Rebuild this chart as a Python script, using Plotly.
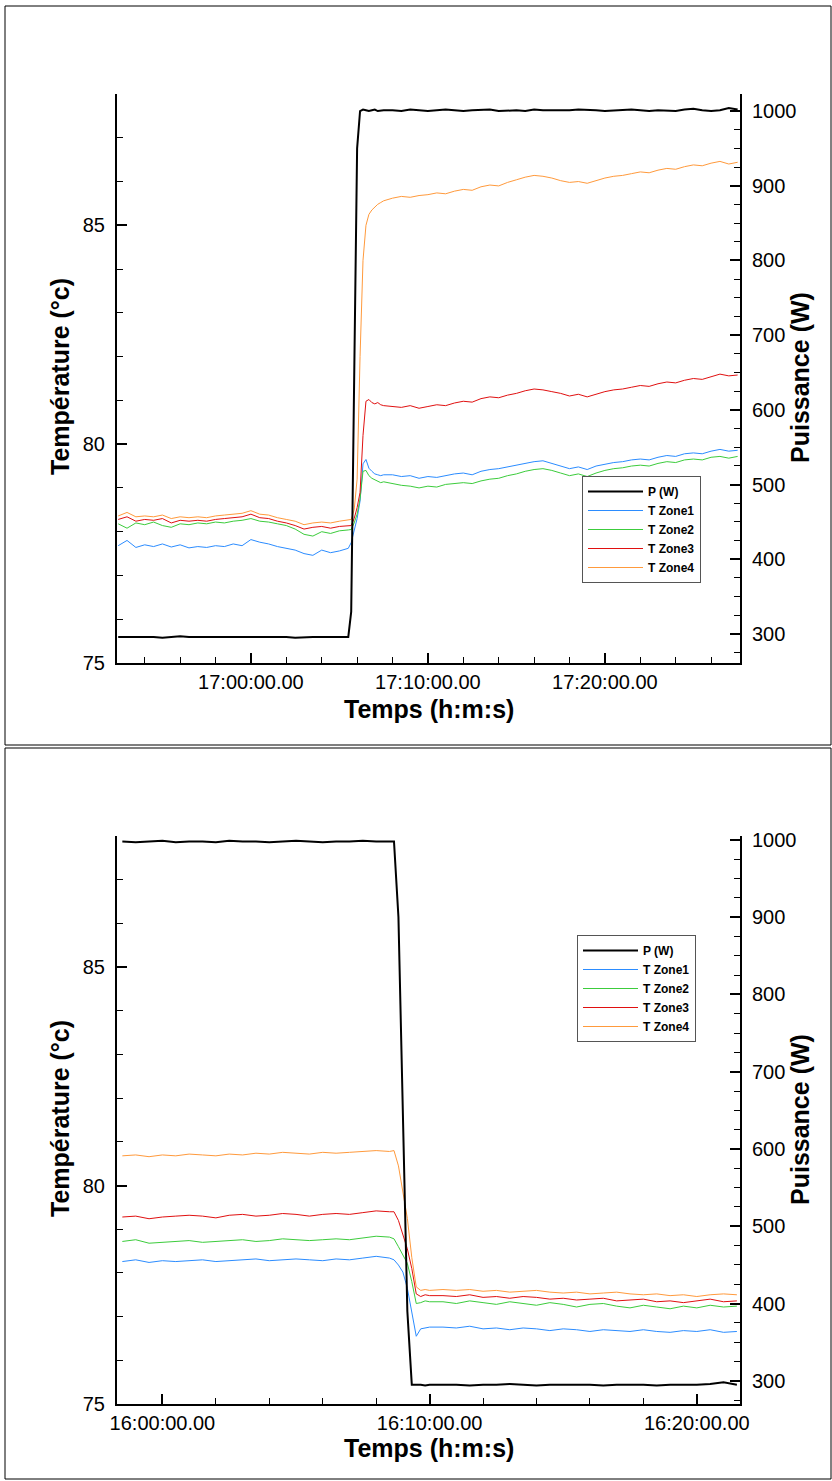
import pandas as pd
import plotly.graph_objects as go

DAY = "2024-01-01 "
FONT = "Liberation Sans, Arial, sans-serif"

# ---------------- essai 1 : echelon de puissance montant ----------------
t_top = (
    list(pd.date_range(DAY + "16:52:30", DAY + "17:05:30", freq="30s"))
    + list(pd.date_range(DAY + "17:05:40", DAY + "17:07:30", freq="10s"))
    + list(pd.date_range(DAY + "17:08:00", DAY + "17:27:30", freq="30s"))
)

p_top = [
    296, 296, 297, 296, 296, 295, 296, 297, 296, 296, 296, 297, 296, 296,
    296, 296, 297, 296, 296, 296, 295, 296, 296, 296, 296, 297, 296,
    330, 640, 950, 1000, 1002, 1001, 1000, 1001, 1002, 1000, 1001, 1001,
    1001, 1000, 1002, 1001, 1000, 1001, 1002, 1001, 1000, 1001,
    1001, 1002, 1000, 1001, 1001, 1000, 1002, 1001, 1001, 1000,
    1001, 1002, 1001, 1001, 1000, 1001, 1001, 1002, 1001, 1000,
    1001, 1001, 1000, 1002, 1003, 1001, 1000, 1001, 1004, 1002,
]
z1_top = [
    77.68, 77.80, 77.64, 77.70, 77.66, 77.72, 77.65, 77.70, 77.63, 77.66,
    77.64, 77.68, 77.66, 77.72, 77.68, 77.82, 77.76, 77.72, 77.66, 77.62,
    77.58, 77.50, 77.46, 77.58, 77.52, 77.56, 77.62,
    77.75, 78.00, 78.30, 78.70, 79.55, 79.65, 79.45, 79.38, 79.32, 79.30, 79.28, 79.30,
    79.30, 79.26, 79.28, 79.22, 79.26, 79.24, 79.28, 79.32, 79.34, 79.30,
    79.38, 79.42, 79.44, 79.48, 79.52, 79.56, 79.60, 79.62, 79.56, 79.50,
    79.44, 79.48, 79.42, 79.50, 79.54, 79.58, 79.60, 79.64, 79.66, 79.64,
    79.70, 79.74, 79.72, 79.78, 79.80, 79.78, 79.84, 79.88, 79.84, 79.86,
]
z2_top = [
    78.18, 78.08, 78.20, 78.16, 78.22, 78.14, 78.10, 78.18, 78.16, 78.20,
    78.18, 78.22, 78.20, 78.24, 78.26, 78.30, 78.24, 78.22, 78.18, 78.14,
    78.06, 77.94, 77.90, 78.00, 77.96, 78.02, 78.04,
    78.05, 78.20, 78.40, 78.75, 79.38, 79.40, 79.28, 79.22, 79.18, 79.15, 79.12, 79.14,
    79.10, 79.06, 79.04, 79.00, 79.04, 79.02, 79.08, 79.10, 79.12, 79.10,
    79.16, 79.20, 79.22, 79.28, 79.32, 79.38, 79.42, 79.44, 79.40, 79.34,
    79.28, 79.32, 79.26, 79.34, 79.40, 79.44, 79.46, 79.50, 79.52, 79.50,
    79.56, 79.60, 79.58, 79.64, 79.66, 79.64, 79.70, 79.72, 79.68, 79.72,
]
z3_top = [
    78.28, 78.34, 78.24, 78.28, 78.26, 78.30, 78.20, 78.26, 78.24, 78.26,
    78.24, 78.28, 78.30, 78.32, 78.34, 78.40, 78.32, 78.30, 78.24, 78.20,
    78.14, 78.06, 78.10, 78.12, 78.08, 78.12, 78.14,
    78.14, 78.30, 78.55, 78.90, 80.20, 80.98, 81.02, 80.95, 80.92, 80.95, 80.90, 80.88,
    80.86, 80.84, 80.88, 80.82, 80.86, 80.90, 80.88, 80.94, 80.98, 80.96,
    81.04, 81.08, 81.06, 81.12, 81.16, 81.22, 81.26, 81.24, 81.20, 81.16,
    81.10, 81.14, 81.08, 81.14, 81.20, 81.24, 81.26, 81.30, 81.34, 81.32,
    81.38, 81.42, 81.40, 81.46, 81.50, 81.48, 81.54, 81.60, 81.56, 81.58,
]
z4_top = [
    78.36, 78.44, 78.34, 78.36, 78.34, 78.38, 78.30, 78.34, 78.32, 78.34,
    78.32, 78.36, 78.38, 78.40, 78.42, 78.48, 78.40, 78.38, 78.32, 78.28,
    78.24, 78.16, 78.20, 78.22, 78.20, 78.24, 78.26,
    78.28, 78.50, 79.20, 82.00, 84.20, 85.00, 85.25, 85.35, 85.42, 85.48, 85.52, 85.56,
    85.62, 85.66, 85.64, 85.68, 85.70, 85.74, 85.72, 85.78, 85.82, 85.80,
    85.88, 85.92, 85.90, 85.98, 86.04, 86.10, 86.14, 86.12, 86.08, 86.02,
    85.98, 86.00, 85.96, 86.02, 86.08, 86.12, 86.14, 86.18, 86.22, 86.20,
    86.26, 86.30, 86.28, 86.34, 86.38, 86.36, 86.42, 86.46, 86.40, 86.44,
]

# ---------------- essai 2 : echelon de puissance descendant ----------------
t_bot = (
    list(pd.date_range(DAY + "15:58:30", DAY + "16:08:30", freq="30s"))
    + list(pd.date_range(DAY + "16:08:40", DAY + "16:10:00", freq="10s"))
    + list(pd.date_range(DAY + "16:10:30", DAY + "16:21:30", freq="30s"))
)

p_bot = [
    998, 997, 998, 999, 997, 998, 998, 997, 999, 998, 998,
    997, 998, 999, 998, 997, 998, 998, 999, 998, 998,
    998, 900, 640, 390, 295, 295, 295, 294, 295,
    295, 295, 294, 295, 295, 296, 295, 294, 295, 295, 295, 295,
    294, 295, 295, 295, 294, 295, 295, 295, 296, 298, 295,
]
z1_bot = [
    78.26, 78.30, 78.24, 78.28, 78.26, 78.28, 78.30, 78.26, 78.28, 78.30, 78.32,
    78.28, 78.30, 78.32, 78.30, 78.28, 78.32, 78.30, 78.34, 78.38, 78.34,
    78.30, 78.18, 78.02, 77.65, 77.10, 76.55, 76.72, 76.74, 76.76,
    76.76, 76.74, 76.78, 76.72, 76.74, 76.70, 76.74, 76.72, 76.68, 76.72, 76.70, 76.66,
    76.70, 76.68, 76.66, 76.70, 76.66, 76.64, 76.68, 76.66, 76.70, 76.64, 76.66,
]
z2_bot = [
    78.72, 78.76, 78.68, 78.70, 78.72, 78.74, 78.70, 78.72, 78.74, 78.76, 78.72,
    78.74, 78.78, 78.76, 78.74, 78.76, 78.78, 78.76, 78.80, 78.84, 78.82,
    78.78, 78.60, 78.42, 78.22, 77.80, 77.30, 77.32, 77.36, 77.34,
    77.34, 77.30, 77.36, 77.32, 77.28, 77.34, 77.30, 77.26, 77.32, 77.28, 77.22, 77.28,
    77.30, 77.24, 77.20, 77.26, 77.22, 77.18, 77.24, 77.20, 77.26, 77.22, 77.24,
]
z3_bot = [
    79.28, 79.30, 79.24, 79.28, 79.30, 79.32, 79.30, 79.26, 79.32, 79.34, 79.30,
    79.32, 79.36, 79.34, 79.30, 79.34, 79.36, 79.34, 79.38, 79.42, 79.40,
    79.40, 79.20, 78.85, 78.55, 78.10, 77.52, 77.46, 77.50, 77.48,
    77.48, 77.46, 77.50, 77.44, 77.46, 77.42, 77.46, 77.44, 77.40, 77.42, 77.38, 77.40,
    77.42, 77.36, 77.38, 77.40, 77.34, 77.36, 77.32, 77.36, 77.40, 77.34, 77.36,
]
z4_bot = [
    80.68, 80.70, 80.66, 80.70, 80.68, 80.72, 80.70, 80.68, 80.72, 80.70, 80.74,
    80.72, 80.76, 80.74, 80.72, 80.76, 80.74, 80.76, 80.78, 80.80, 80.78,
    80.80, 80.45, 79.80, 79.25, 78.35, 77.68, 77.60, 77.62, 77.60,
    77.62, 77.60, 77.62, 77.58, 77.60, 77.56, 77.58, 77.60, 77.56, 77.54, 77.56, 77.52,
    77.54, 77.56, 77.52, 77.50, 77.52, 77.48, 77.50, 77.46, 77.50, 77.52, 77.50,
]

for s in (p_top, z1_top, z2_top, z3_top, z4_top):
    assert len(s) == len(t_top), len(s)
for s in (p_bot, z1_bot, z2_bot, z3_bot, z4_bot):
    assert len(s) == len(t_bot), len(s)

names = ["P (W)", "T Zone1", "T Zone2", "T Zone3", "T Zone4"]
colors = ["black", "#2b8cff", "#3ccc3c", "#e01010", "#ff9a3c"]
widths = [2, 1, 1, 1, 1]

W, H = 832, 1481


def fx(p):
    return p / W


def fy(p):
    return 1 - p / H


fig = go.Figure()
panels = [
    (t_top, [p_top, z1_top, z2_top, z3_top, z4_top], "x", "y", "y2", "legend"),
    (t_bot, [p_bot, z1_bot, z2_bot, z3_bot, z4_bot], "x2", "y3", "y4", "legend2"),
]
for t, series, xa, ya_t, ya_p, leg in panels:
    for i, ys in enumerate(series):
        fig.add_trace(
            go.Scatter(
                x=t, y=ys, mode="lines", name=names[i],
                line=dict(color=colors[i], width=widths[i]),
                xaxis=xa, yaxis=ya_p if i == 0 else ya_t, legend=leg,
            )
        )

tickfont = dict(family=FONT, size=20, color="black")
common = dict(
    showline=True, linewidth=2, linecolor="black", showgrid=False, zeroline=False,
    ticks="inside", ticklen=10, tickwidth=2, tickcolor="black", tickfont=tickfont,
)
xdom = [fx(117), fx(740)]


def xaxis(rng, anchor):
    return dict(
        common, type="date", range=rng, domain=xdom, anchor=anchor,
        tickformat="%H:%M:%S.00", dtick=600000, ticklabelstandoff=0,
        minor=dict(dtick=120000, ticks="inside", ticklen=6, tickwidth=1, tickcolor="black"),
    )


def taxis(dom, anchor):
    return dict(
        common, range=[75, 88], domain=dom, anchor=anchor, tick0=75, dtick=5,
        ticklabelstandoff=6,
        minor=dict(dtick=1, ticks="inside", ticklen=6, tickwidth=1, tickcolor="black"),
    )


def paxis(rng, over, anchor):
    return dict(
        common, range=rng, overlaying=over, side="right", anchor=anchor,
        tick0=0, dtick=100, ticklabelstandoff=6,
        minor=dict(dtick=25, ticks="inside", ticklen=6, tickwidth=1, tickcolor="black"),
    )


legend_common = dict(
    xanchor="left", yanchor="top", bgcolor="white", bordercolor="#555555",
    borderwidth=1, font=dict(family=FONT, size=12, color="black", weight="bold"),
    tracegroupgap=0, itemwidth=55,
)

title_font = dict(family=FONT, size=25, color="black", weight="bold")
annotations = []
for cy_t, cy_p, cy_x in [(376, 378, 709), (1118, 1120, 1448)]:
    annotations += [
        dict(text="Température (°c)", x=fx(60), y=fy(cy_t), textangle=-90),
        dict(text="Puissance (W)", x=fx(800), y=fy(cy_p), textangle=-90),
        dict(text="Temps (h:m:s)", x=fx(429), y=fy(cy_x)),
    ]
for a in annotations:
    a.update(xref="paper", yref="paper", showarrow=False, font=title_font,
             xanchor="center", yanchor="middle")

shapes = [
    dict(type="rect", xref="paper", yref="paper", x0=fx(5), x1=fx(831),
         y0=fy(745), y1=fy(6), line=dict(color="black", width=1)),
    dict(type="rect", xref="paper", yref="paper", x0=fx(5), x1=fx(831),
         y0=fy(1479), y1=fy(748), line=dict(color="black", width=1)),
]

fig.update_layout(
    template="none",
    width=W, height=H, autosize=False,
    margin=dict(l=0, r=0, t=0, b=0),
    paper_bgcolor="white", plot_bgcolor="white",
    showlegend=True,
    xaxis=xaxis([DAY + "16:52:26", DAY + "17:27:38"], "y"),
    yaxis=taxis([fy(663), fy(94)], "x"),
    yaxis2=paxis([261.2, 1022.8], "y", "x"),
    xaxis2=xaxis([DAY + "15:58:18", DAY + "16:21:37"], "y3"),
    yaxis3=taxis([fy(1404), fy(836)], "x2"),
    yaxis4=paxis([270, 1005], "y3", "x2"),
    legend=dict(legend_common, x=fx(582), y=fy(476)),
    legend2=dict(legend_common, x=fx(577), y=fy(935)),
    annotations=annotations,
    shapes=shapes,
)

fig.write_html(
    "out.html",
    config={"displayModeBar": False},
    post_script="document.body.style.margin='0px';document.body.style.overflow='hidden';",
)
